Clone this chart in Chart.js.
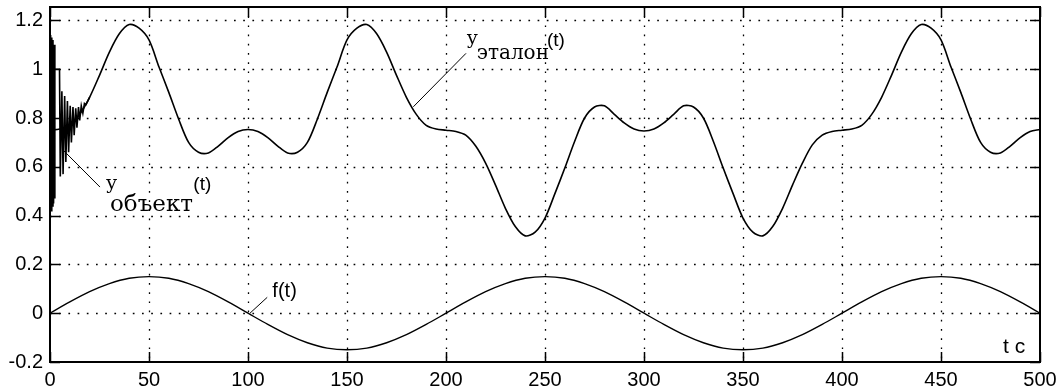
<!DOCTYPE html>
<html>
<head>
<meta charset="utf-8">
<script src="https://cdn.jsdelivr.net/npm/chart.js@4.4.0/dist/chart.umd.min.js"></script>
<style>
  html, body { margin: 0; padding: 0; background: #fff; }
  #chart { display: block; }
</style>
</head>
<body>
<canvas id="chart" width="1060" height="392"></canvas>
<script>
// reference output y_эталон(t), read every 5 s
var tEtalon = [0, 5, 10, 15, 20, 25, 30, 35, 40, 45, 50, 55, 60, 65, 70, 75, 80, 85, 90, 95,
  100, 105, 110, 115, 120, 125, 130, 135, 140, 145, 150, 155, 160, 165, 170, 175, 180, 185, 190, 195,
  200, 205, 210, 215, 220, 225, 230, 235, 240, 245, 250, 255, 260, 265, 270, 275, 280, 285, 290, 295,
  300, 305, 310, 315, 320, 325, 330, 335, 340, 345, 350, 355, 360, 365, 370, 375, 380, 385, 390, 395,
  400, 405, 410, 415, 420, 425, 430, 435, 440, 445, 450, 455, 460, 465, 470, 475, 480, 485, 490, 495, 500];
var yEtalon = [0.75, 0.755, 0.77, 0.815, 0.885, 0.975, 1.07, 1.145, 1.183, 1.168, 1.12, 1.01, 0.905, 0.795, 0.70, 0.66, 0.657, 0.685, 0.72, 0.745,
  0.753, 0.745, 0.72, 0.685, 0.657, 0.66, 0.70, 0.795, 0.905, 1.01, 1.12, 1.168, 1.183, 1.145, 1.07, 0.975, 0.885, 0.815, 0.77, 0.755,
  0.75, 0.745, 0.73, 0.685, 0.615, 0.525, 0.43, 0.355, 0.317, 0.332, 0.39, 0.49, 0.595, 0.705, 0.80, 0.845, 0.85, 0.815, 0.78, 0.755,
  0.747, 0.755, 0.78, 0.815, 0.85, 0.845, 0.80, 0.705, 0.595, 0.49, 0.39, 0.332, 0.317, 0.355, 0.43, 0.525, 0.615, 0.69, 0.73, 0.745,
  0.75, 0.755, 0.77, 0.815, 0.885, 0.975, 1.07, 1.145, 1.183, 1.168, 1.12, 1.01, 0.905, 0.795, 0.70, 0.66, 0.657, 0.685, 0.72, 0.745, 0.753];

// plant output y_объект(t) during the start-up transient, after that it sits on the reference
var tObject = [0, 0.3, 0.6, 0.9, 1.2, 1.5, 1.8, 2.1, 2.4, 2.5, 4.8, 5.2, 6.0, 6.6, 7.4, 8.0, 8.8, 9.4, 10.2, 10.8,
  11.6, 12.2, 13.0, 13.6, 14.4, 15.0, 15.8, 16.6, 17.4, 18.2, 20];
var yObject = [0.75, 1.14, 0.42, 1.13, 0.44, 1.12, 0.45, 1.10, 0.47, 1.0, 1.0, 0.56, 0.91, 0.57, 0.89, 0.62, 0.87, 0.66, 0.85, 0.70,
  0.845, 0.73, 0.84, 0.76, 0.845, 0.79, 0.85, 0.82, 0.86, 0.855, 0.885];

// disturbance f(t), read every 10 s
var tF = [0, 10, 20, 30, 40, 50, 60, 70, 80, 90, 100, 110, 120, 130, 140, 150, 160, 170, 180, 190,
  200, 210, 220, 230, 240, 250, 260, 270, 280, 290, 300, 310, 320, 330, 340, 350, 360, 370, 380, 390,
  400, 410, 420, 430, 440, 450, 460, 470, 480, 490, 500];
var yF = [0, 0.046, 0.088, 0.121, 0.143, 0.15, 0.143, 0.121, 0.088, 0.046, 0, -0.046, -0.088, -0.121, -0.143, -0.15, -0.143, -0.121, -0.088, -0.046,
  0, 0.046, 0.088, 0.121, 0.143, 0.15, 0.143, 0.121, 0.088, 0.046, 0, -0.046, -0.088, -0.121, -0.143, -0.15, -0.143, -0.121, -0.088, -0.046,
  0, 0.046, 0.088, 0.121, 0.143, 0.15, 0.143, 0.121, 0.088, 0.046, 0];

var xTicks = [0, 50, 100, 150, 200, 250, 300, 350, 400, 450, 500];
var yTicks = [-0.2, 0, 0.2, 0.4, 0.6, 0.8, 1, 1.2];

function toPoints(xs, ys) {
  var pts = [];
  for (var i = 0; i < xs.length; i++) {
    pts.push({ x: xs[i], y: ys[i] });
  }
  return pts;
}

var SANS = "'Liberation Sans', Arial, sans-serif";
var SERIF = "'DejaVu Serif', 'Liberation Serif', serif";

// dotted grid, inward ticks and the box, matlab style
var boxPlugin = {
  id: "box",
  beforeDatasetsDraw: function (chart) {
    var ctx = chart.ctx;
    var a = chart.chartArea;
    var xs = chart.scales.x;
    var ys = chart.scales.y;
    ctx.save();
    ctx.strokeStyle = "#000";
    ctx.lineWidth = 1.3;
    ctx.setLineDash([1.7, 7.5]);
    xTicks.forEach(function (t) {
      if (t === 0 || t === 500) return;
      var px = Math.round(xs.getPixelForValue(t)) + 0.5;
      ctx.beginPath();
      ctx.moveTo(px, a.top);
      ctx.lineTo(px, a.bottom);
      ctx.stroke();
    });
    yTicks.forEach(function (v) {
      if (v === -0.2) return;
      var py = Math.round(ys.getPixelForValue(v)) + 0.5;
      ctx.beginPath();
      ctx.moveTo(a.left, py);
      ctx.lineTo(a.right, py);
      ctx.stroke();
    });
    ctx.restore();
  },
  afterDatasetsDraw: function (chart) {
    var ctx = chart.ctx;
    var a = chart.chartArea;
    var xs = chart.scales.x;
    var ys = chart.scales.y;
    var len = 10;
    ctx.save();
    ctx.strokeStyle = "#000";
    ctx.lineWidth = 2;
    ctx.setLineDash([]);
    ctx.strokeRect(a.left, a.top, a.right - a.left, a.bottom - a.top);
    ctx.lineWidth = 1.5;
    xTicks.forEach(function (t) {
      var px = Math.round(xs.getPixelForValue(t)) + 0.5;
      ctx.beginPath();
      ctx.moveTo(px, a.bottom);
      ctx.lineTo(px, a.bottom - len);
      ctx.moveTo(px, a.top);
      ctx.lineTo(px, a.top + len);
      ctx.stroke();
    });
    yTicks.forEach(function (v) {
      var py = Math.round(ys.getPixelForValue(v)) + 0.5;
      ctx.beginPath();
      ctx.moveTo(a.left, py);
      ctx.lineTo(a.left + len, py);
      ctx.moveTo(a.right, py);
      ctx.lineTo(a.right - len, py);
      ctx.stroke();
    });
    ctx.restore();
  }
};

// curve labels with their leader lines, placed in data units
var labelPlugin = {
  id: "curveLabels",
  afterDraw: function (chart) {
    var ctx = chart.ctx;
    var xs = chart.scales.x;
    var ys = chart.scales.y;
    function X(t) { return xs.getPixelForValue(t); }
    function Y(v) { return ys.getPixelForValue(v); }
    function line(t1, v1, t2, v2) {
      ctx.beginPath();
      ctx.moveTo(X(t1), Y(v1));
      ctx.lineTo(X(t2), Y(v2));
      ctx.stroke();
    }
    function text(str, t, v, font) {
      ctx.font = font;
      ctx.fillText(str, X(t), Y(v));
    }
    ctx.save();
    ctx.fillStyle = "#000";
    ctx.strokeStyle = "#000";
    ctx.lineWidth = 1;
    ctx.textBaseline = "alphabetic";
    ctx.textAlign = "left";

    line(210.1, 1.065, 183.5, 0.846);
    text("y", 210.6, 1.105, "19px " + SERIF);
    text("эталон", 215.5, 1.042, "20px " + SERIF);
    text("(t)", 251, 1.095, "19px " + SANS);

    line(25.25, 0.517, 6.7, 0.668);
    text("y", 28.4, 0.51, "19px " + SERIF);
    text("объект", 30.3, 0.419, "23px " + SERIF);
    text("(t)", 72.4, 0.505, "19px " + SANS);

    line(109.7, 0.065, 101, 0.0);
    text("f(t)", 112.3, 0.066, "20px " + SANS);

    text("t c", 481.3, -0.163, "21px " + SANS);
    ctx.restore();
  }
};

var ctx = document.getElementById("chart").getContext("2d");

var chartInstance = new Chart(ctx, {
  type: "line",
  data: {
    datasets: [
      {
        label: "y эталон",
        data: toPoints(tEtalon, yEtalon),
        borderColor: "#000",
        borderWidth: 1.6,
        pointRadius: 0,
        tension: 0.3,
        fill: false
      },
      {
        label: "y объект",
        data: toPoints(tObject, yObject),
        borderColor: "#000",
        borderWidth: 1.6,
        pointRadius: 0,
        tension: 0,
        fill: false
      },
      {
        label: "f",
        data: toPoints(tF, yF),
        borderColor: "#000",
        borderWidth: 1.4,
        pointRadius: 0,
        tension: 0.3,
        fill: false
      }
    ]
  },
  options: {
    responsive: false,
    animation: false,
    devicePixelRatio: 1,
    layout: { padding: { top: 7, right: 20, left: 0, bottom: 0 } },
    plugins: {
      legend: { display: false },
      tooltip: { enabled: false }
    },
    scales: {
      x: {
        type: "linear",
        min: 0,
        max: 500,
        grid: { display: false, drawTicks: false },
        border: { display: false },
        afterBuildTicks: function (scale) {
          scale.ticks = xTicks.map(function (v) { return { value: v }; });
        },
        afterFit: function (scale) {
          scale.height = 30;
          scale.paddingLeft = 0;
          scale.paddingRight = 0;
        },
        ticks: {
          padding: 6,
          maxRotation: 0,
          autoSkip: false,
          color: "#000",
          font: { size: 20, family: SANS },
          callback: function (v) { return String(v); }
        }
      },
      y: {
        type: "linear",
        min: -0.2,
        max: 1.255,
        grid: { display: false, drawTicks: false },
        border: { display: false },
        afterBuildTicks: function (scale) {
          scale.ticks = yTicks.map(function (v) { return { value: v }; });
        },
        afterFit: function (scale) {
          scale.width = 50;
          scale.paddingTop = 0;
          scale.paddingBottom = 0;
        },
        ticks: {
          padding: 7,
          autoSkip: false,
          color: "#000",
          font: { size: 20, family: SANS },
          callback: function (v) { return String(Math.round(v * 10) / 10); }
        }
      }
    }
  },
  plugins: [boxPlugin, labelPlugin]
});
</script>
</body>
</html>
